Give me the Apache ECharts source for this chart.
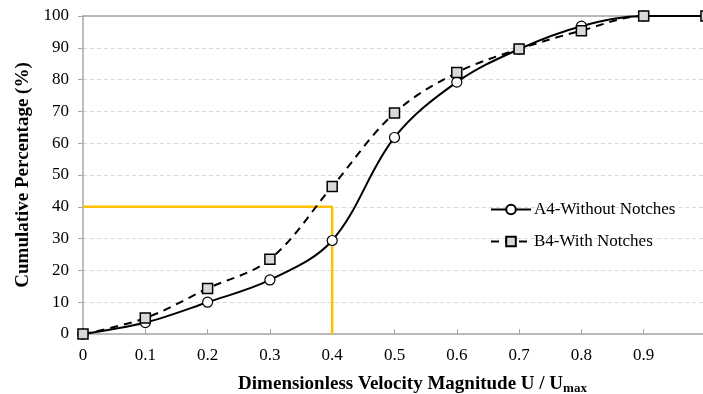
<!DOCTYPE html>
<html>
<head>
<meta charset="utf-8">
<script src="https://cdn.jsdelivr.net/npm/echarts@6/dist/echarts.min.js"></script>
<style>
  html, body { margin: 0; padding: 0; background: #fff; }
  #chart { width: 703px; height: 394px; }
</style>
</head>
<body>
<div id="chart"></div>
<script>
// values
var xValues = [0, 0.1, 0.2, 0.3, 0.4, 0.5, 0.6, 0.7, 0.8, 0.9, 1.0];
var withoutNotches = [0, 3.6, 10, 17, 29.4, 61.8, 79.2, 89.6, 96.8, 100, 100];
var withNotches = [0, 5, 14.3, 23.5, 46.4, 69.5, 82.2, 89.6, 95.4, 100, 100];
var guideX = [0, 0.4, 0.4];
var guideY = [40, 40, 0];

function pairs(xs, ys) {
    var out = [];
    for (var i = 0; i < xs.length; i++) {
        out.push([xs[i], ys[i]]);
    }
    return out;
}

var serif = '"Liberation Serif", "Times New Roman", serif';
var chart = echarts.init(document.getElementById('chart'));

var option = {
    animation: false,
    textStyle: { fontFamily: serif },
    grid: { left: 83, width: 623, top: 16, height: 318, containLabel: false, outerBoundsMode: 'none' },
    legend: {
        orient: 'vertical',
        left: 485,
        top: 196,
        itemWidth: 40,
        itemHeight: 12,
        itemGap: 15,
        textStyle: { fontFamily: serif, fontSize: 17, color: '#000', padding: [0, 0, 0, -2] },
        data: ['A4-Without Notches', 'B4-With Notches']
    },
    xAxis: [{
        type: 'value',
        min: 0,
        max: 1,
        interval: 0.1,
        axisLine: { lineStyle: { color: '#A6A6A6', width: 1.5 } },
        axisTick: { show: true, inside: true, length: 5, lineStyle: { color: '#A6A6A6' } },
        axisLabel: {
            fontFamily: serif, fontSize: 17, color: '#000', margin: 13,
            formatter: function (v) {
                if (v >= 0.99) return '';
                return v === 0 ? '0' : v.toFixed(1);
            }
        },
        splitLine: { show: false },
        name: '{b|Dimensionless Velocity Magnitude U / U}{s|max}',
        nameLocation: 'middle',
        nameGap: 39,
        nameTextStyle: {
            padding: [0, 0, 0, 36],
            rich: {
                b: { fontFamily: serif, fontSize: 19, fontWeight: 'bold', color: '#000' },
                s: { fontFamily: serif, fontSize: 13, fontWeight: 'bold', color: '#000', padding: [9, 0, 0, 0] }
            }
        }
    }, {
        // top border of the plot
        type: 'value',
        position: 'top',
        min: 0,
        max: 1,
        axisLine: { lineStyle: { color: '#A6A6A6', width: 1.5 } },
        axisTick: { show: false },
        axisLabel: { show: false },
        splitLine: { show: false }
    }],
    yAxis: {
        type: 'value',
        min: 0,
        max: 100,
        interval: 10,
        axisLine: { show: true, lineStyle: { color: '#A6A6A6', width: 1.5 } },
        axisTick: { show: true, length: 5, lineStyle: { color: '#A6A6A6' } },
        axisLabel: { fontFamily: serif, fontSize: 17, color: '#000', margin: 14 },
        splitLine: { show: true, lineStyle: { color: '#D9D9D9', type: [4, 3] } },
        name: 'Cumulative Percentage (%)',
        nameLocation: 'middle',
        nameGap: 50,
        nameTextStyle: { fontFamily: serif, fontSize: 19, fontWeight: 'bold', color: '#000' }
    },
    series: [
        {
            name: 'guide',
            type: 'line',
            data: pairs(guideX, guideY),
            showSymbol: false,
            symbol: 'none',
            lineStyle: { color: '#FFC000', width: 2.5 },
            z: 1
        },
        {
            name: 'A4-Without Notches',
            type: 'line',
            data: pairs(xValues, withoutNotches),
            smooth: 0.35,
            symbol: 'circle',
            symbolSize: 10,
            itemStyle: { color: '#fff', borderColor: '#000', borderWidth: 1.2 },
            lineStyle: { color: '#000', width: 2 },
            z: 3
        },
        {
            name: 'B4-With Notches',
            type: 'line',
            data: pairs(xValues, withNotches),
            smooth: 0.35,
            symbol: 'rect',
            symbolSize: 10,
            itemStyle: { color: '#D9D9D9', borderColor: '#000', borderWidth: 1.5 },
            lineStyle: { color: '#000', width: 2, type: [8, 6] },
            z: 4
        }
    ]
};

chart.setOption(option);
</script>
</body>
</html>
